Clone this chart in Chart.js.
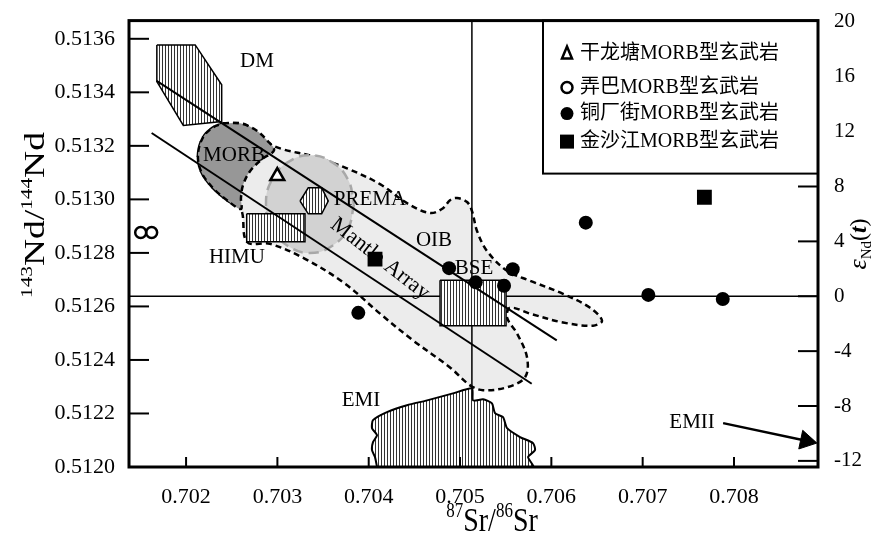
<!DOCTYPE html>
<html>
<head>
<meta charset="utf-8">
<title>87Sr/86Sr - 143Nd/144Nd</title>
<script src="https://cdn.jsdelivr.net/npm/chart.js"></script>
<style>
  body { margin: 0; background: #fff; }
  #wrap { width: 886px; height: 541px; }
</style>
</head>
<body>
<div id="wrap"><canvas id="c"></canvas></div>
<script>
// axis ranges (Sr, Nd); CHUR 143Nd/144Nd for the eNd axis
const srMin = 0.701375, srMax = 0.70892;
const ndMin = 0.5120, ndMax = 0.513668;
const churNd = 0.512638;
const bseSr = 0.70513;

// reservoir fields, [87Sr/86Sr, 143Nd/144Nd]
const dmZone = [[0.70168,0.513577],[0.70210,0.513577],[0.70239,0.513428],[0.70239,0.513291],[0.70197,0.513276],[0.70168,0.513440],[0.70168,0.513577]];
const premaZone = [[0.703248,0.512994],[0.703338,0.513043],[0.703485,0.513043],[0.703557,0.512994],[0.703485,0.512946],[0.703338,0.512946],[0.703248,0.512994]];
const himuZone = [[0.702664,0.512946],[0.703302,0.512946],[0.703302,0.512842],[0.702664,0.512842],[0.702664,0.512946]];
const bseZone = [[0.704781,0.512698],[0.705504,0.512698],[0.705504,0.512528],[0.704781,0.512528],[0.704781,0.512698]];
const morbZone = [[0.702404,0.513284],[0.702590,0.513284],[0.702755,0.513261],[0.702897,0.513217],[0.702963,0.513183],[0.702831,0.513150],[0.702700,0.513105],[0.702623,0.513053],[0.702601,0.513005],[0.702601,0.512964],[0.702459,0.512994],[0.702284,0.513046],[0.702163,0.513105],[0.702130,0.513168],[0.702185,0.513232],[0.702295,0.513269],[0.702404,0.513284]];
const oibZone = [[0.702404,0.513284],[0.702645,0.513280],[0.702886,0.513213],[0.703061,0.513187],[0.703390,0.513161],[0.703762,0.513116],[0.704124,0.513057],[0.704419,0.512986],[0.704671,0.512949],[0.704814,0.512967],[0.704890,0.512997],[0.704967,0.513005],[0.705077,0.512990],[0.705131,0.512956],[0.705186,0.512882],[0.705296,0.512807],[0.705515,0.512733],[0.705767,0.512696],[0.706128,0.512647],[0.706424,0.512595],[0.706555,0.512547],[0.706457,0.512528],[0.706128,0.512540],[0.705767,0.512573],[0.705548,0.512595],[0.705515,0.512558],[0.705624,0.512499],[0.705734,0.512409],[0.705712,0.512335],[0.705515,0.512298],[0.705252,0.512287],[0.705110,0.512305],[0.704890,0.512372],[0.704485,0.512473],[0.704124,0.512573],[0.703740,0.512685],[0.703302,0.512778],[0.702919,0.512834],[0.702667,0.512841],[0.702601,0.512964],[0.702459,0.512994],[0.702284,0.513046],[0.702163,0.513105],[0.702130,0.513168],[0.702185,0.513232],[0.702295,0.513269],[0.702404,0.513284]];
const circleZone = [[0.703839,0.512982],[0.703773,0.512891],[0.703598,0.512826],[0.703357,0.512800],[0.703116,0.512826],[0.702941,0.512891],[0.702875,0.512982],[0.702941,0.513074],[0.703116,0.513139],[0.703357,0.513165],[0.703598,0.513139],[0.703773,0.513074],[0.703839,0.512982]];
const emiZone = [[0.704091,0.5120],[0.704069,0.512037],[0.704036,0.512063],[0.704047,0.512093],[0.704091,0.512119],[0.704036,0.512145],[0.704047,0.512175],[0.704200,0.512205],[0.704419,0.512231],[0.704639,0.512249],[0.704923,0.512275],[0.705131,0.512294],[0.705142,0.512249],[0.705252,0.512253],[0.705350,0.512238],[0.705383,0.512201],[0.705471,0.512186],[0.705515,0.512145],[0.705657,0.512112],[0.705800,0.512089],[0.705821,0.512063],[0.705745,0.512037],[0.705800,0.5120],[0.704091,0.5120]];

// mantle array and EMII trend
const upperArray = [[0.701678,0.513443],[0.706059,0.512473]];
const lowerArray = [[0.701623,0.513248],[0.705785,0.512311]];
const emiiArrow = [[0.707881,0.512164],[0.708790,0.512098]];

// samples
const ganlongtang = [[0.702999,0.513087]];
const nongba = [[0.701503,0.512876],[0.701623,0.512876]];
const tongchangjie = [[0.703886,0.512576],[0.704880,0.512743],[0.705172,0.512690],[0.705482,0.512677],[0.705577,0.512739],[0.706377,0.512913],[0.707062,0.512643],[0.707877,0.512628]];
const jinshajiang = [[0.704069,0.512777],[0.707676,0.513008]];

const zoneLabels = [
  {t: 'DM', x: 0.702777, y: 0.513514},
  {t: 'MORB', x: 0.702525, y: 0.513165},
  {t: 'PREMA', x: 0.704014, y: 0.513001},
  {t: 'HIMU', x: 0.702557, y: 0.512781},
  {t: 'OIB', x: 0.704715, y: 0.512848},
  {t: 'BSE', x: 0.705153, y: 0.512741},
  {t: 'EMI', x: 0.703916, y: 0.512249},
  {t: 'EMII', x: 0.707541, y: 0.512167},
  {t: 'Mantle Array', x: 0.704124, y: 0.512778, rot: 38}
];

const legendRows = [
  {text: '干龙塘MORB型玄武岩', mark: 'triangle'},
  {text: '弄巴MORB型玄武岩', mark: 'open'},
  {text: '铜厂街MORB型玄武岩', mark: 'dot'},
  {text: '金沙江MORB型玄武岩', mark: 'square'}
];

const eps = v => (v / churNd - 1) * 1e4;
const pts = a => a.map(([x, y]) => ({x, y}));
const SERIF = '"Liberation Serif", "Noto Sans CJK SC", serif';

function hatch() {
  const c = document.createElement('canvas');
  c.width = 3; c.height = 3;
  const g = c.getContext('2d');
  g.fillStyle = '#fff'; g.fillRect(0, 0, 3, 3);
  g.fillStyle = '#333'; g.fillRect(0, 0, 1, 3);
  return g.createPattern(c, 'repeat');
}
const hatchFill = hatch();

function zone(label, data, fillColor, border, order) {
  return Object.assign({
    type: 'line', label, data: pts(data), order,
    backgroundColor: fillColor, fill: 'shape',
    borderColor: '#000', borderWidth: 1.5,
    pointRadius: 0, tension: 0
  }, border);
}

// parts: [text, size, style, dy]; sx/sy stretch the run
function drawRich(ctx, parts, cx, cy, rot, sx, sy) {
  ctx.save();
  ctx.translate(cx, cy);
  ctx.rotate(rot);
  ctx.scale(sx || 1, sy || 1);
  let w = 0;
  parts.forEach(p => { ctx.font = (p[2] || '') + ' ' + p[1] + 'px ' + SERIF; w += ctx.measureText(p[0]).width; });
  let x = -w / 2;
  ctx.textBaseline = 'alphabetic';
  ctx.textAlign = 'left';
  parts.forEach(p => {
    ctx.font = (p[2] || '') + ' ' + p[1] + 'px ' + SERIF;
    ctx.fillText(p[0], x, 10 + (p[3] || 0));
    x += ctx.measureText(p[0]).width;
  });
  ctx.restore();
}

function line(ctx, x1, y1, x2, y2) {
  ctx.beginPath(); ctx.moveTo(x1, y1); ctx.lineTo(x2, y2); ctx.stroke();
}

const decor = {
  id: 'decor',
  afterDatasetDraw(chart, args) {
    if (args.meta.label !== 'EMII') return;
    const ctx = chart.ctx, xs = chart.scales.x, ys = chart.scales.y;
    ctx.save();
    ctx.fillStyle = '#000';
    ctx.textAlign = 'center';
    ctx.textBaseline = 'middle';
    zoneLabels.forEach(l => {
      ctx.save();
      ctx.translate(xs.getPixelForValue(l.x), ys.getPixelForValue(l.y));
      if (l.rot) ctx.rotate(l.rot * Math.PI / 180);
      ctx.font = (l.rot ? 22 : 21) + 'px ' + SERIF;
      ctx.fillText(l.t, 0, 0);
      ctx.restore();
    });
    ctx.restore();
  },
  afterDraw(chart) {
    const ctx = chart.ctx;
    const {left, right, top, bottom} = chart.chartArea;
    ctx.save();
    ctx.strokeStyle = '#000';
    ctx.lineWidth = 2;
    chart.scales.y.ticks.forEach(t => { const p = chart.scales.y.getPixelForValue(t.value); line(ctx, left, p, left + 20, p); });
    chart.scales.y2.ticks.forEach(t => { const p = chart.scales.y2.getPixelForValue(t.value); line(ctx, right - 20, p, right, p); });
    chart.scales.x.ticks.forEach(t => { const p = chart.scales.x.getPixelForValue(t.value); line(ctx, p, bottom, p, bottom - 10); });

    // legend box
    const lx = right - 275, ly = top, lh = 153;
    ctx.fillStyle = '#fff';
    ctx.fillRect(lx, ly, 275, lh);
    ctx.lineWidth = 2;
    ctx.strokeRect(lx, ly, 275, lh);
    const rowY = [33, 67, 93, 121];
    legendRows.forEach((r, i) => {
      const mx = lx + 24, my = ly + rowY[i];
      ctx.fillStyle = '#000';
      ctx.lineWidth = 2.5;
      ctx.beginPath();
      if (r.mark === 'triangle') {
        ctx.moveTo(mx, my - 7); ctx.lineTo(mx + 5, my + 5); ctx.lineTo(mx - 5, my + 5); ctx.closePath(); ctx.stroke();
      } else if (r.mark === 'open') {
        ctx.arc(mx, my, 5.5, 0, Math.PI * 2); ctx.stroke();
      } else if (r.mark === 'dot') {
        ctx.arc(mx, my, 6.5, 0, Math.PI * 2); ctx.fill();
      } else {
        ctx.fillRect(mx - 7, my - 7, 14, 14);
      }
      ctx.font = '20px ' + SERIF;
      ctx.textAlign = 'left';
      ctx.textBaseline = 'middle';
      ctx.fillText(r.text, lx + 37, my);
    });

    // frame
    ctx.lineWidth = 3;
    ctx.strokeRect(left, top, right - left, bottom - top);

    // axis titles
    ctx.fillStyle = '#000';
    drawRich(ctx, [['143', 17, '', -12], ['Nd/', 30], ['144', 17, '', -12], ['Nd', 30]], 34, 215, -Math.PI / 2, 1.25, 1);
    drawRich(ctx, [['87', 17, '', -12], ['Sr/', 28], ['86', 17, '', -12], ['Sr', 28]], 492, 519, 0, 1, 1.2);
    drawRich(ctx, [['ε', 26, 'italic'], ['Nd', 15, '', 5], ['(', 24], ['t', 24, 'italic bold'], [')', 24]], 856, 244, -Math.PI / 2);
    ctx.restore();
  }
};

new Chart(document.getElementById('c'), {
  type: 'scatter',
  data: {
    datasets: [
      zone('OIB', oibZone, '#ececec', {borderDash: [6, 4], borderWidth: 2.5, tension: 0.35}, 20),
      zone('PREMA circle', circleZone, '#d2d2d2', {borderColor: '#a8a8a8', borderDash: [10, 6], borderWidth: 2.5, tension: 0.45}, 19),
      zone('MORB', morbZone, '#979797', {borderDash: [6, 4], borderWidth: 2.5, tension: 0.35}, 18),
      {type: 'line', label: 'BSE Sr', data: pts([[bseSr, ndMin], [bseSr, ndMax]]), borderColor: '#000', borderWidth: 1.5, pointRadius: 0, order: 17},
      {type: 'line', label: 'CHUR', data: pts([[srMin, churNd], [srMax, churNd]]), borderColor: '#000', borderWidth: 1.5, pointRadius: 0, order: 16},
      zone('DM', dmZone, hatchFill, {}, 15),
      zone('PREMA', premaZone, hatchFill, {}, 14),
      zone('HIMU', himuZone, hatchFill, {}, 13),
      zone('BSE', bseZone, hatchFill, {}, 12),
      zone('EMI', emiZone, hatchFill, {borderWidth: 2, tension: 0.2}, 11),
      {type: 'line', label: 'Mantle Array 1', data: pts(upperArray), borderColor: '#000', borderWidth: 2, pointRadius: 0, order: 10},
      {type: 'line', label: 'Mantle Array 2', data: pts(lowerArray), borderColor: '#000', borderWidth: 2, pointRadius: 0, order: 9},
      {type: 'line', label: 'EMII', data: pts(emiiArrow), borderColor: '#000', borderWidth: 2.5,
        pointRadius: [0, 11], pointStyle: 'triangle', pointRotation: [0, 102],
        pointBackgroundColor: '#000', pointBorderColor: '#000', pointBorderWidth: 1, order: 8},
      {label: '干龙塘MORB型玄武岩', data: pts(ganlongtang), pointStyle: 'triangle', pointRadius: 8,
        pointBackgroundColor: '#fff', pointBorderColor: '#000', pointBorderWidth: 2.5, order: 4},
      {label: '弄巴MORB型玄武岩', data: pts(nongba), pointStyle: 'circle', pointRadius: 5.5,
        pointBackgroundColor: 'rgba(0,0,0,0)', pointBorderColor: '#000', pointBorderWidth: 2.5, order: 3},
      {label: '铜厂街MORB型玄武岩', data: pts(tongchangjie), pointStyle: 'circle', pointRadius: 7,
        pointBackgroundColor: '#000', pointBorderColor: '#000', pointBorderWidth: 0, order: 2},
      {label: '金沙江MORB型玄武岩', data: pts(jinshajiang), pointStyle: 'rect', pointRadius: 10.5,
        pointBackgroundColor: '#000', pointBorderColor: '#000', pointBorderWidth: 0, order: 1}
    ]
  },
  options: {
    responsive: true,
    maintainAspectRatio: false,
    animation: false,
    layout: {padding: {top: 17, left: 0, right: 0, bottom: 0}},
    plugins: {legend: {display: false}, tooltip: {enabled: false}},
    scales: {
      x: {
        type: 'linear', min: srMin, max: srMax,
        afterFit: s => { s.height = 74; },
        grid: {display: false}, border: {display: false},
        ticks: {stepSize: 0.001, includeBounds: false, autoSkip: false, padding: 9, color: '#000',
          font: {family: SERIF, size: 22}, callback: v => v.toFixed(3)}
      },
      y: {
        type: 'linear', position: 'left', min: ndMin, max: ndMax,
        afterFit: s => { s.width = 129; },
        grid: {display: false}, border: {display: false},
        ticks: {stepSize: 0.0002, includeBounds: false, autoSkip: false, padding: 6, color: '#000',
          font: {family: SERIF, size: 22}, callback: v => v.toFixed(4)}
      },
      y2: {
        type: 'linear', position: 'right', min: eps(ndMin), max: eps(ndMax),
        afterFit: s => { s.width = 68; },
        grid: {display: false}, border: {display: false},
        ticks: {stepSize: 4, includeBounds: false, autoSkip: false, padding: 8, color: '#000',
          font: {family: SERIF, size: 21}, callback: v => String(Math.round(v))}
      }
    }
  },
  plugins: [decor]
});
</script>
</body>
</html>
